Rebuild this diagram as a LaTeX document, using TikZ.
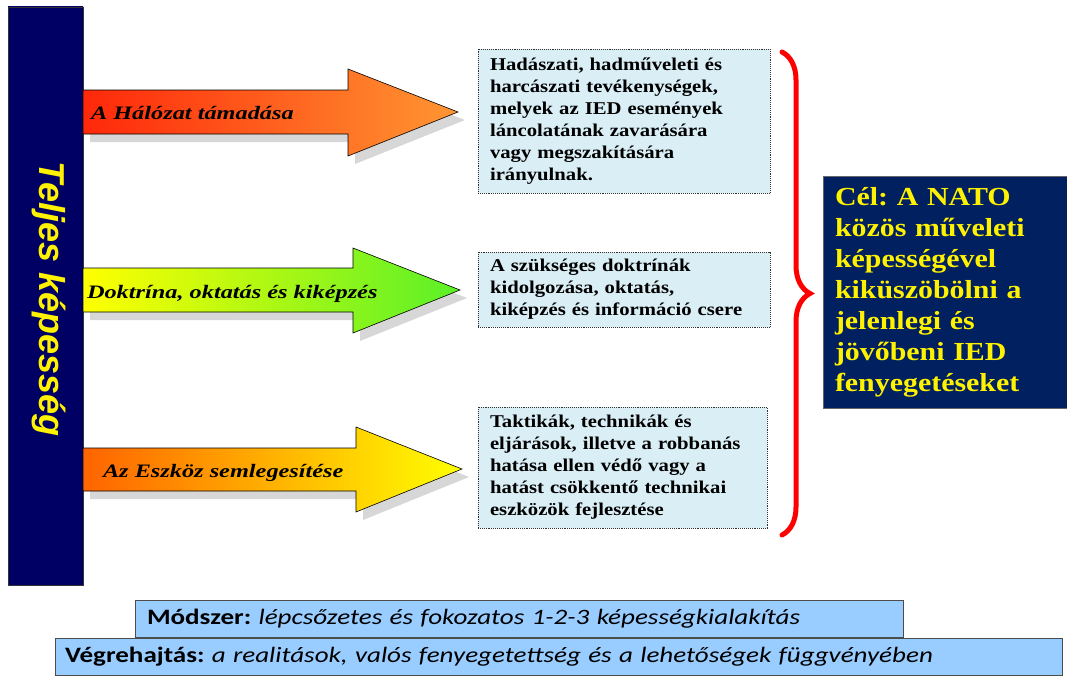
\documentclass[tikz,border=0pt]{standalone}
\usepackage{fontspec}
\setmainfont{Liberation Serif}
\newfontfamily\boxfont[FakeStretch=1.15]{Liberation Serif}
\newfontfamily\goalfont[FakeStretch=1.15]{Liberation Serif}
\newfontfamily\arrowfont[FakeStretch=1.28]{Liberation Serif}
\newfontfamily\barfont{Liberation Sans}
\newfontfamily\notefont[FakeStretch=1.23]{Carlito}
\usetikzlibrary{positioning,decorations.pathreplacing}

\definecolor{navybar}{RGB}{0,0,100}
\definecolor{bluebar}{RGB}{0,0,225}
\definecolor{goalblue}{RGB}{0,32,96}
\definecolor{boxcyan}{RGB}{218,238,245}
\definecolor{noteblue}{RGB}{153,204,255}
\definecolor{shadowgray}{RGB}{215,215,215}

\begin{document}
\frenchspacing
\begin{tikzpicture}[x=1pt, y=-1pt]
    \tikzstyle{every node}=[inner sep=0pt, outer sep=0pt]
    \tikzstyle{arrowlabel}=[font=\arrowfont\fontsize{19}{21}\selectfont\bfseries\itshape, anchor=base west]
    \tikzstyle{infobox}=[draw=black!80, fill=boxcyan, densely dotted, line width=0.9pt,
        font=\boxfont\fontsize{18}{22}\selectfont\bfseries, align=left,
        text width=268pt, inner xsep=12pt]
    \tikzstyle{notebox}=[draw=black!70, fill=noteblue, line width=0.8pt, anchor=north west,
        font=\notefont\fontsize{22}{26}\selectfont, minimum height=37pt]
    \useasboundingbox (0,0) rectangle (1067,677);

    % left bar
    \shade[draw=black!80, top color=navybar, middle color=bluebar, bottom color=navybar]
        (8,7) rectangle (83,585);
    \node[rotate=-90, anchor=base, text=yellow, font=\barfont\fontsize{36}{40}\selectfont\bfseries\itshape]
        (teljes) at (39,299) {Teljes képesség};

    % shadows of the arrows
    \fill[shadowgray, shift={(7,8)}] (83,90) -- (348,90) -- (348,69) -- (458,112) -- (348,156) -- (348,134) -- (83,134) -- cycle;
    \fill[shadowgray, shift={(7,8)}] (83,268) -- (353,268) -- (353,248) -- (460,290) -- (353,333) -- (353,312) -- (83,312) -- cycle;
    \fill[shadowgray, shift={(7,8)}] (83,448) -- (356,448) -- (356,427) -- (462,469) -- (356,512) -- (356,491) -- (83,491) -- cycle;

    % arrows
    \shade[draw=black, line width=0.6pt, left color={rgb,255:red,255;green,40;blue,10}, middle color={rgb,255:red,255;green,150;blue,50}, right color={rgb,255:red,255;green,150;blue,50}]
        (83,90) -- (348,90) -- (348,69) -- (458,112) -- (348,156) -- (348,134) -- (83,134) -- cycle;
    \shade[draw=black, line width=0.6pt, left color=yellow, right color={rgb,255:red,90;green,240;blue,40}]
        (83,268) -- (353,268) -- (353,248) -- (460,290) -- (353,333) -- (353,312) -- (83,312) -- cycle;
    \shade[draw=black, line width=0.6pt, left color={rgb,255:red,255;green,100;blue,0}, middle color=yellow, right color=yellow]
        (83,448) -- (356,448) -- (356,427) -- (462,469) -- (356,512) -- (356,491) -- (83,491) -- cycle;

    \node[arrowlabel] (attack) at (91,119) {A Hálózat támadása};
    \node[arrowlabel] (doctrine) at (87,298) {Doktrína, oktatás és kiképzés};
    \node[arrowlabel] (defeat) at (103,477) {Az Eszköz semlegesítése};

    % text boxes
    \node[infobox, minimum height=144pt] (strike) at (624,121) {Hadászati, hadműveleti és\\harcászati tevékenységek,\\melyek az IED események\\láncolatának zavarására\\vagy megszakítására\\irányulnak.};
    \node[infobox, minimum height=75pt] (train) at (624,289.5) {A szükséges doktrínák\\kidolgozása, oktatás,\\kiképzés és információ csere};
    \node[infobox, minimum height=121pt, text width=265pt] (device) at (622.5,467.5) {Taktikák, technikák és\\eljárások, illetve a robbanás\\hatása ellen védő vagy a\\hatást csökkentő technikai\\eszközök fejlesztése};

    % brace and goal
    \coordinate (bracetop) at (782,52);
    \coordinate (bracebot) at (782,535);
    \draw[red, line width=5pt, line cap=round, decorate, decoration={brace, amplitude=28pt}]
        (bracetop) -- (bracebot);
    \node[fill=goalblue, draw=black!60, minimum width=244pt, minimum height=232pt, text width=220pt,
        inner xsep=12pt, align=left, text=yellow, font=\goalfont\fontsize{26}{31}\selectfont\bfseries]
        (goal) at (945,292) {Cél: A NATO\\közös műveleti\\képességével\\kiküszöbölni a\\jelenlegi és\\jövőbeni IED\\fenyegetéseket};

    % method and execution
    \node[notebox, minimum width=768pt, inner xsep=12pt, text width=744pt] (method) at (135,600)
        {\textbf{Módszer:} \textit{lépcsőzetes és fokozatos 1-2-3 képességkialakítás}};
    \node[notebox, minimum width=1007pt, inner xsep=10pt, text width=987pt] (exec) at (55,638)
        {\textbf{Végrehajtás:} \textit{a realitások, valós fenyegetettség és a lehetőségek függvényében}};
\end{tikzpicture}
\end{document}
